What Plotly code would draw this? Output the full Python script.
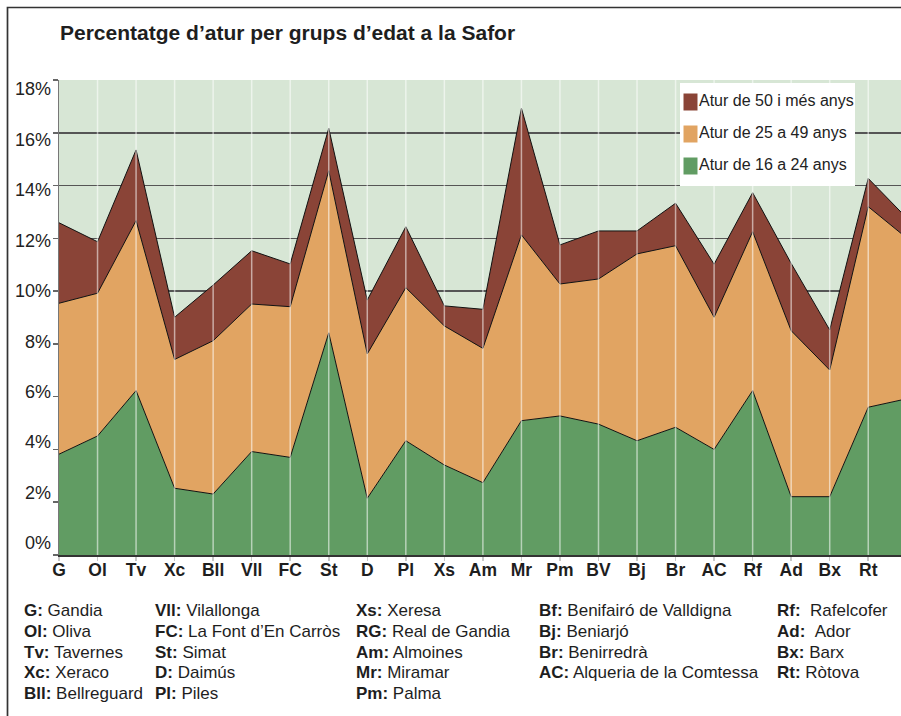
import plotly.graph_objects as go

# ---------------- data ----------------
categories = ["G", "Ol", "Tv", "Xc", "Bll", "Vll", "FC", "St", "D", "Pl", "Xs", "Am",
              "Mr", "Pm", "BV", "Bj", "Br", "AC", "Rf", "Ad", "Bx", "Rt", ""]

series_names = ["Atur de 16 a 24 anys", "Atur de 25 a 49 anys", "Atur de 50 i més anys"]

atur_16_24 = [3.82, 4.51, 6.23, 2.53, 2.31, 3.92, 3.70, 8.42, 2.15, 4.33, 3.41, 2.74,
              5.09, 5.27, 4.96, 4.33, 4.84, 4.00, 6.23, 2.21, 2.21, 5.60, 5.92]
atur_25_49 = [5.72, 5.41, 6.44, 4.88, 5.81, 5.59, 5.71, 6.14, 5.47, 5.80, 5.27, 5.09,
              7.04, 5.00, 5.50, 7.08, 6.88, 5.01, 6.02, 6.29, 4.80, 7.60, 6.09]
atur_50_mes = [3.05, 1.95, 2.68, 1.60, 2.11, 2.02, 1.62, 1.61, 2.04, 2.31, 0.76, 1.48,
               4.80, 1.48, 1.82, 0.87, 1.61, 2.01, 1.48, 2.55, 1.52, 1.07, 0.76]

y_ticks = [0, 2, 4, 6, 8, 10, 12, 14, 16, 18]

title_text = "Percentatge d’atur per grups d’edat a la Safor"

key_abbr = [["G", "Ol", "Tv", "Xc", "Bll"],
            ["Vll", "FC", "St", "D", "Pl"],
            ["Xs", "RG", "Am", "Mr", "Pm"],
            ["Bf", "Bj", "Br", "AC"],
            ["Rf", "Ad", "Bx", "Rt"]]
key_name = [["Gandia", "Oliva", "Tavernes", "Xeraco", "Bellreguard"],
            ["Vilallonga", "La Font d’En Carròs", "Simat", "Daimús", "Piles"],
            ["Xeresa", "Real de Gandia", "Almoines", "Miramar", "Palma"],
            ["Benifairó de Valldigna", "Beniarjó", "Benirredrà", "Alqueria de la Comtessa"],
            ["\u00a0Rafelcofer", "\u00a0Ador", "Barx", "Ròtova"]]

# ---------------- style ----------------
W, H = 901, 716
L, R, T, B = 59, 0, 80, 161
PW, PH = W - L - R, H - T - B
FONT = "Liberation Sans, Arial, Helvetica, sans-serif"
TXT = "#1e1e1e"
colors = ["#619c63", "#e1a462", "#8a4437"]
values = [atur_16_24, atur_25_49, atur_50_mes]


def px(x):
    return (x - L) / PW


def py(y):
    return (H - B - y) / PH


xs = list(range(len(categories)))

fig = go.Figure()
for name, vals, col in zip(series_names, values, colors):
    fig.add_trace(go.Scatter(
        x=xs, y=vals, name=name, stackgroup="one", mode="lines",
        line=dict(color="#111111", width=1), fillcolor=col,
        showlegend=False, hoverinfo="skip"))

# overlay axis carrying the tick labels (placed as in the reference)
fig.add_trace(go.Scatter(x=[None], y=[None], yaxis="y2", showlegend=False,
                         hoverinfo="skip"))

shapes = []
# vertical light grid lines drawn over the areas
for i in xs[1:]:
    shapes.append(dict(type="line", xref="x", yref="paper", x0=i, x1=i, y0=0, y1=1,
                       line=dict(color="rgba(255,255,255,0.55)", width=1.5),
                       layer="above"))

# legend box
shapes.append(dict(type="rect", xref="paper", yref="paper",
                   x0=px(680), x1=px(855), y0=py(186), y1=py(83),
                   fillcolor="white", line=dict(width=0), layer="above"))
annotations = []
leg_rows = [102, 134, 166]
for (name, col), yc in zip(list(zip(series_names, colors))[::-1], leg_rows):
    shapes.append(dict(type="rect", xref="paper", yref="paper",
                       x0=px(683.5), x1=px(697.5), y0=py(yc + 8.5), y1=py(yc - 8.5),
                       fillcolor=col, line=dict(width=0), layer="above"))
    annotations.append(dict(xref="paper", yref="paper", x=px(697), y=py(yc - 1.5),
                            xanchor="left", yanchor="middle", showarrow=False,
                            text=name, font=dict(family=FONT, size=16, color="#222")))

# outer frame
shapes.append(dict(type="rect", xref="paper", yref="paper",
                   x0=px(7.5), x1=px(1100), y0=py(900), y1=py(7.5),
                   line=dict(color="#333333", width=1.7), layer="above"))

# title
annotations.append(dict(xref="paper", yref="paper", x=px(58), y=py(33),
                        xanchor="left", yanchor="middle", showarrow=False,
                        text="<b>" + title_text + "</b>",
                        font=dict(family=FONT, size=21, color=TXT)))

# key of abbreviations
col_x = [22, 153, 354, 537, 775]
for cx, abbrs, names in zip(col_x, key_abbr, key_name):
    for r, (a, n) in enumerate(zip(abbrs, names)):
        annotations.append(dict(xref="paper", yref="paper", x=px(cx), y=py(610.5 + r * 20.8),
                                xanchor="left", yanchor="middle", align="left",
                                showarrow=False, text=f"<b>{a}:</b> {n}",
                                font=dict(family=FONT, size=17, color=TXT)))

fig.update_layout(
    width=W, height=H,
    margin=dict(l=L, r=R, t=T, b=B, pad=0),
    paper_bgcolor="white", plot_bgcolor="#d7e6d5",
    showlegend=False,
    font=dict(family=FONT, color=TXT),
    xaxis=dict(range=[0, 21.85], tickvals=xs, ticktext=categories,
               tickfont=dict(family=FONT, size=17.5, color=TXT, weight="bold"),
               ticks="outside", ticklen=4, tickcolor="#c8c8c8", tickwidth=1.5,
               ticklabelstandoff=-6,
               showgrid=False, zeroline=False, showline=True,
               linecolor="#333333", linewidth=2),
    yaxis=dict(range=[0, 18], tickvals=y_ticks, showticklabels=False,
               ticks="outside", ticklen=5, tickcolor="#666666", tickwidth=1.5,
               showgrid=True, gridcolor="#555555", gridwidth=1.5,
               zeroline=False, showline=True, linecolor="#777777", linewidth=1.5),
    yaxis2=dict(overlaying="y", side="left", range=[-0.476, 18.357],
                tickvals=y_ticks, ticktext=[f"{v}%" for v in y_ticks],
                tickfont=dict(family=FONT, size=18, color="#222"),
                ticks="", showgrid=False, zeroline=False, showline=False,
                ticklabelstandoff=7),
    shapes=shapes,
    annotations=annotations,
)

fig.write_html("out.html",
               config={"displayModeBar": False, "staticPlot": True},
               post_script="document.body.style.margin='0';"
                           "document.body.style.overflow='hidden';")
